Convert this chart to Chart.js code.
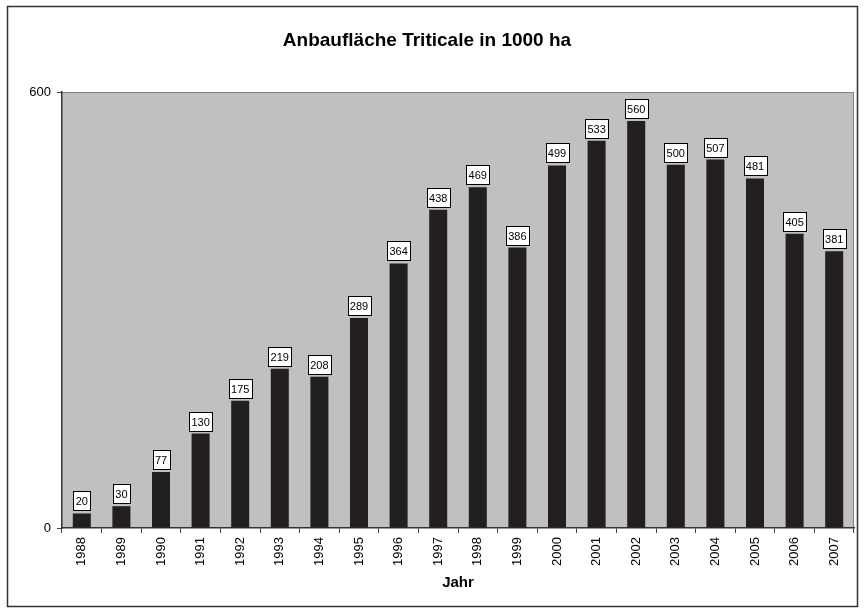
<!DOCTYPE html>
<html>
<head>
    <title>Anbaufläche Triticale</title>
    <style>
        body { margin: 0; background: #fff; font-family: Arial, "Liberation Sans", sans-serif; }
        #wrap { width: 865px; height: 612px; }
    </style>
    <script src="https://cdn.jsdelivr.net/npm/chart.js"></script>
</head>
<body>
    <div id="wrap"><canvas id="chart" width="865" height="612"></canvas></div>
    <script>
        // data
        var years = ['1988', '1989', '1990', '1991', '1992', '1993', '1994', '1995', '1996', '1997',
                     '1998', '1999', '2000', '2001', '2002', '2003', '2004', '2005', '2006', '2007'];
        var area = [20, 30, 77, 130, 175, 219, 208, 289, 364, 438,
                    469, 386, 499, 533, 560, 500, 507, 481, 405, 381];
        var yTicks = [0, 600];

        var FONT = 'Arial, "Liberation Sans", sans-serif';

        // grey plot background, outer frame
        var frame = {
            id: 'frame',
            beforeDraw: function (chart) {
                var ctx = chart.ctx, a = chart.chartArea;
                ctx.save();
                ctx.fillStyle = '#fff';
                ctx.fillRect(0, 0, chart.width, chart.height);
                ctx.strokeStyle = '#333';
                ctx.lineWidth = 1.5;
                ctx.strokeRect(7.5, 6.5, 850, 600);
                ctx.fillStyle = '#c0c0c0';
                ctx.fillRect(a.left, a.top, a.right - a.left, a.bottom - a.top);
                ctx.strokeStyle = '#808080';
                ctx.lineWidth = 1;
                ctx.beginPath();
                ctx.moveTo(a.left, a.top + 0.5);
                ctx.lineTo(a.right - 0.5, a.top + 0.5);
                ctx.lineTo(a.right - 0.5, a.bottom);
                ctx.stroke();
                ctx.restore();
            }
        };

        // value boxes above the bars
        var valueBoxes = {
            id: 'valueBoxes',
            afterDatasetsDraw: function (chart) {
                var ctx = chart.ctx;
                var meta = chart.getDatasetMeta(0);
                ctx.save();
                ctx.font = '11px ' + FONT;
                ctx.textAlign = 'center';
                ctx.textBaseline = 'middle';
                meta.data.forEach(function (bar, i) {
                    var txt = String(area[i]);
                    var w = Math.round(ctx.measureText(txt).width + 5);
                    var h = 19;
                    var x = Math.round(bar.x - w / 2) + 0.5;
                    var y = Math.round(bar.y - 3 - h) + 0.5;
                    ctx.fillStyle = '#fff';
                    ctx.fillRect(x, y, w, h);
                    ctx.strokeStyle = '#000';
                    ctx.lineWidth = 1;
                    ctx.strokeRect(x, y, w, h);
                    ctx.fillStyle = '#000';
                    ctx.fillText(txt, bar.x, y + h / 2 + 1);
                });
                ctx.restore();
            }
        };

        new Chart(document.getElementById('chart'), {
            type: 'bar',
            data: {
                labels: years,
                datasets: [{
                    data: area,
                    backgroundColor: '#231f20',
                    borderWidth: 0,
                    barPercentage: 0.455,
                    categoryPercentage: 1
                }]
            },
            options: {
                responsive: false,
                animation: false,
                layout: { padding: { left: 0, right: 11, top: 29, bottom: 0 } },
                plugins: {
                    legend: { display: false },
                    tooltip: { enabled: false },
                    title: {
                        display: true,
                        text: 'Anbaufläche Triticale in 1000 ha',
                        color: '#000',
                        font: { family: FONT, size: 19, weight: 'bold', lineHeight: 1.2 },
                        padding: { top: 0, bottom: 40.2 }
                    }
                },
                scales: {
                    x: {
                        grid: {
                            display: true,
                            offset: true,
                            drawOnChartArea: false,
                            drawTicks: true,
                            tickLength: 5,
                            color: '#404040'
                        },
                        border: { display: true, color: '#333', width: 1.5 },
                        ticks: {
                            color: '#000',
                            font: { family: FONT, size: 13 },
                            minRotation: 90,
                            maxRotation: 90,
                            autoSkip: false,
                            padding: 4
                        },
                        title: {
                            display: true,
                            text: 'Jahr',
                            color: '#000',
                            font: { family: FONT, size: 15, weight: 'bold' },
                            padding: { top: 0, bottom: 20 }
                        },
                        afterFit: function (s) { s.height = 84; }
                    },
                    y: {
                        min: yTicks[0],
                        max: yTicks[yTicks.length - 1],
                        afterBuildTicks: function (s) {
                            s.ticks = yTicks.map(function (v) { return { value: v }; });
                        },
                        grid: {
                            display: true,
                            drawOnChartArea: false,
                            drawTicks: true,
                            tickLength: 5,
                            color: '#404040'
                        },
                        border: { display: true, color: '#333', width: 1.5 },
                        ticks: {
                            color: '#000',
                            font: { family: FONT, size: 13 },
                            padding: 6
                        },
                        afterFit: function (s) { s.width = 62; }
                    }
                }
            },
            plugins: [frame, valueBoxes]
        });
    </script>
</body>
</html>
